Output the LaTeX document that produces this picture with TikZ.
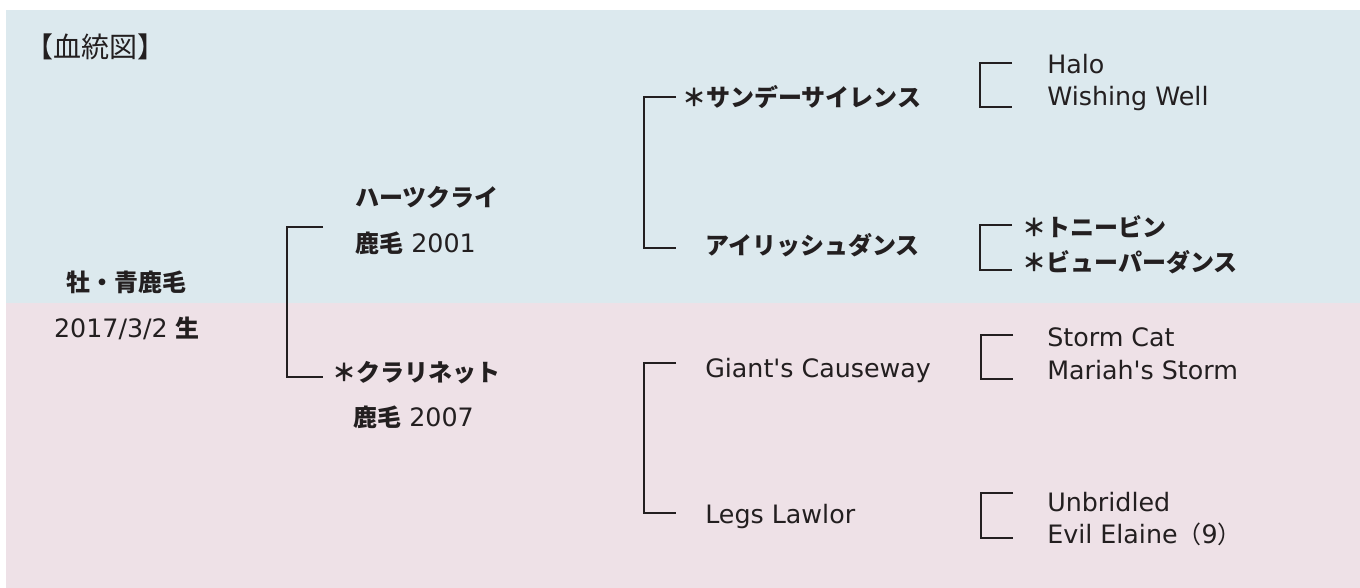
\documentclass[tikz,border=0pt]{standalone}
\usepackage{fontspec}
\setmainfont{DejaVu Sans}
\newfontfamily\jp{Noto Sans CJK JP}
\usetikzlibrary{calc}
\definecolor{SkyMist}{HTML}{DCE9EE}
\definecolor{RoseMist}{HTML}{EEE1E7}
\definecolor{InkBlack}{HTML}{231F20}
\newcommand{\jpt}[1]{{\jp\bfseries\fontsize{18}{18}\selectfont #1}}
\newcommand{\jpp}[1]{{\jp\fontsize{18}{18}\selectfont #1}}
\tikzset{
  horse/.style={anchor=base west, inner sep=0pt, text=InkBlack, font=\fontsize{19}{19}\selectfont},
  bracket/.style={draw=InkBlack, line width=1.5pt}
}
\begin{document}
\begin{tikzpicture}[x=0.75pt,y=-0.75pt]
\useasboundingbox (0,0) rectangle (1360,588);
\fill[SkyMist] (6,10) rectangle (1360,303);
\fill[RoseMist] (6,303) rectangle (1360,588);

\node[horse, font=\jp\fontsize{21}{21}\selectfont] (title) at (25,58) {【血統図】};

\node[horse, anchor=base] (sex) at (126,291.5) {\jpt{牡・青鹿毛}};
\node[horse, anchor=base] (born) at (127,337) {2017/3/2 \jpt{生}};

\node[horse] (sire) at (355,206.5) {\jpt{ハーツクライ}};
\node[horse] (sirecoat) at (355,252.5) {\jpt{鹿毛} 2001};
\node[horse] (dam) at (332,381) {\jpt{＊クラリネット}};
\node[horse] (damcoat) at (353,426) {\jpt{鹿毛} 2007};

\node[horse] (ss) at (682,107) {\jpt{＊サンデーサイレンス}};
\node[horse] (sd) at (705,254) {\jpt{アイリッシュダンス}};
\node[horse] (ds) at (705,377) {Giant\textquotesingle{}s Causeway};
\node[horse] (dd) at (705,523) {Legs Lawlor};

\foreach \n/\y/\t in {sss/74/Halo, ssd/105.5/Wishing Well, dss/346/Storm Cat,
    dsd/379/Mariah\textquotesingle{}s Storm, dds/511/Unbridled,
    ddd/543/Evil Elaine\jpp{（}9\jpp{）}}
  \node[horse] (\n) at (1047,\y) {\t};
\node[horse] (sds) at (1022,237) {\jpt{＊トニービン}};
\node[horse] (sdd) at (1022,271) {\jpt{＊ビューパーダンス}};

\foreach \n/\x/\w/\ya/\yb in {g1/287/36/227/377, g2a/644/32/97/248, g2b/644/32/363/513,
    g3a/980/32/63/107, g3b/980/32/225/270, g3c/981/32/335/379, g3d/981/32/493/538}
{
  \coordinate (\n-t) at (\x,\ya);
  \coordinate (\n-b) at (\x,\yb);
  \draw[bracket] ($(\n-t)+(\w,0)$) -- (\n-t) -- (\n-b) -- ++(\w,0);
}
\end{tikzpicture}
\end{document}
